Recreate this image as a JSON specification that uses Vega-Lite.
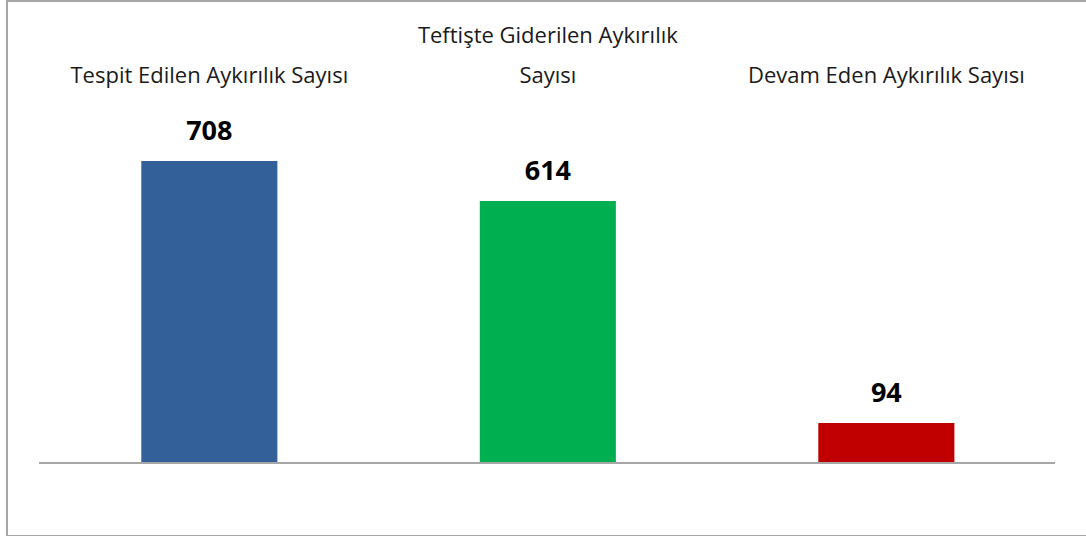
{
  "$schema": "https://vega.github.io/schema/vega-lite/v6.json",
  "width": 1090,
  "height": 535,
  "autosize": "none",
  "padding": {"left": 7, "top": 1, "right": 0, "bottom": 0},
  "background": "white",
  "config": {"view": {"stroke": "#a6a6a6", "strokeWidth": 2}, "font": "Open Sans"},
  "data": {"values": [
    {"category": "Tespit Edilen Aykırılık Sayısı", "count": 708},
    {"category": "Teftişte Giderilen Aykırılık Sayısı", "count": 614},
    {"category": "Devam Eden Aykırılık Sayısı", "count": 94}
  ]},
  "layer": [
    {
      "mark": {"type": "bar"},
      "encoding": {
        "x": {
          "field": "category", "type": "nominal", "sort": null,
          "scale": {"domain": ["Tespit Edilen Aykırılık Sayısı", "Teftişte Giderilen Aykırılık Sayısı", "Devam Eden Aykırılık Sayısı"], "paddingInner": 0.598, "paddingOuter": 0.409, "align": 0.485},
          "axis": {
            "orient": "top", "offset": -41, "domain": false, "ticks": false, "tickSize": 0,
            "labelPadding": 0, "labelAngle": 0, "labelBaseline": "alphabetic", "labelFontSize": 22,
            "labelColor": "#1a1a1a", "labelLineHeight": 40, "labelFont": "Open Sans", "title": null,
            "labelLimit": 0, "labelOverlap": false,
            "labelExpr": "datum.value == 'Teftişte Giderilen Aykırılık Sayısı' ? ['Teftişte Giderilen Aykırılık', 'Sayısı'] : ['', datum.label]"
          }
        },
        "y": {"field": "count", "type": "quantitative", "scale": {"domain": [-171, 1083], "nice": false, "zero": false}, "axis": null},
        "color": {"field": "category", "type": "nominal", "scale": {"domain": ["Tespit Edilen Aykırılık Sayısı", "Teftişte Giderilen Aykırılık Sayısı", "Devam Eden Aykırılık Sayısı"], "range": ["#34609a", "#00b050", "#c00000"]}, "legend": null}
      }
    },
    {
      "mark": {"type": "text", "baseline": "alphabetic", "dy": -21, "fontSize": 27, "fontWeight": "bold", "color": "#000000", "font": "Open Sans"},
      "encoding": {
        "x": {"field": "category", "type": "nominal", "sort": null},
        "y": {"field": "count", "type": "quantitative"},
        "text": {"field": "count", "type": "quantitative"}
      }
    },
    {
      "data": {"values": [{"from": "Tespit Edilen Aykırılık Sayısı", "to": "Devam Eden Aykırılık Sayısı"}]},
      "mark": {"type": "rule", "color": "#a6a6a6", "strokeWidth": 2},
      "encoding": {
        "x": {"field": "from", "type": "nominal", "bandPosition": -0.752},
        "x2": {"field": "to", "bandPosition": 1.74},
        "y": {"datum": 0}
      }
    }
  ]
}
